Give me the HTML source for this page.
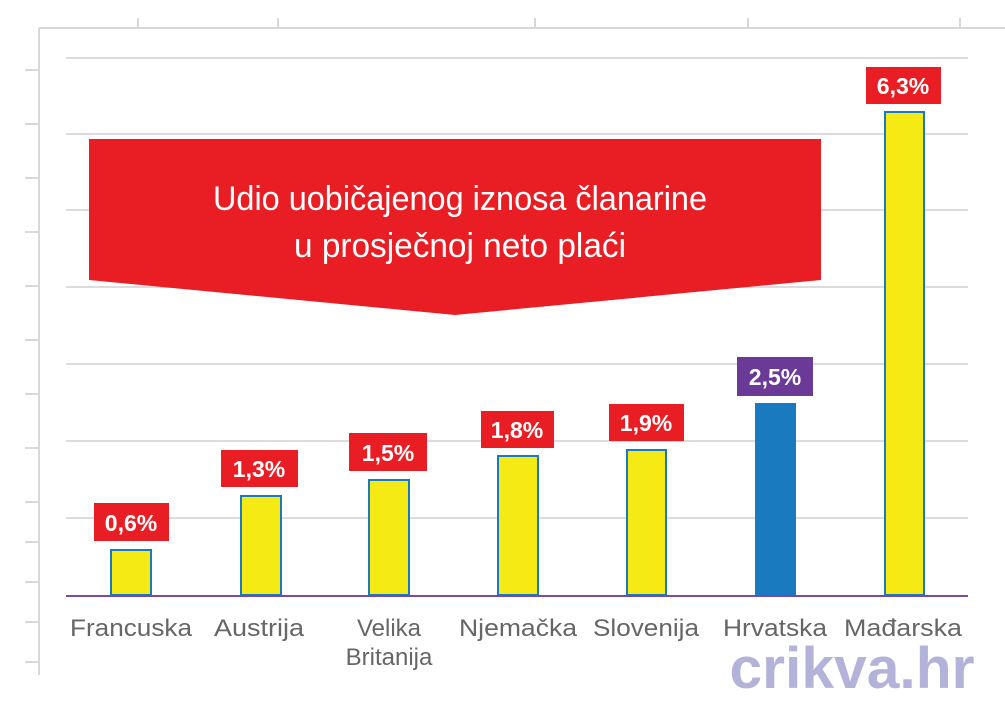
<!DOCTYPE html>
<html><head><meta charset="utf-8"><style>
body{margin:0;background:#fff}
svg{display:block}
</style></head><body>
<svg width="1005" height="720" xmlns="http://www.w3.org/2000/svg" font-family="Liberation Sans, sans-serif">
<rect width="1005" height="720" fill="#fff"/>
<g stroke="#d8d8d8" stroke-width="2">
<line x1="39" y1="28" x2="1005" y2="28"/>
<line x1="39" y1="28" x2="39" y2="675"/>
<line x1="138" y1="18" x2="138" y2="28"/><line x1="278" y1="18" x2="278" y2="28"/><line x1="535" y1="18" x2="535" y2="28"/><line x1="748" y1="18" x2="748" y2="28"/><line x1="960" y1="18" x2="960" y2="28"/>
<line x1="25" y1="70" x2="39" y2="70"/><line x1="25" y1="124" x2="39" y2="124"/><line x1="25" y1="178" x2="39" y2="178"/><line x1="25" y1="232" x2="39" y2="232"/><line x1="25" y1="286" x2="39" y2="286"/><line x1="25" y1="340" x2="39" y2="340"/><line x1="25" y1="394" x2="39" y2="394"/><line x1="25" y1="448" x2="39" y2="448"/><line x1="25" y1="502" x2="39" y2="502"/><line x1="25" y1="542" x2="39" y2="542"/><line x1="25" y1="582" x2="39" y2="582"/><line x1="25" y1="622" x2="39" y2="622"/><line x1="25" y1="662" x2="39" y2="662"/>
</g>
<g stroke="#dcdcdc" stroke-width="2">
<line x1="66" y1="58" x2="968" y2="58"/><line x1="66" y1="134" x2="968" y2="134"/><line x1="66" y1="210" x2="968" y2="210"/><line x1="66" y1="287" x2="968" y2="287"/><line x1="66" y1="364" x2="968" y2="364"/><line x1="66" y1="441" x2="968" y2="441"/><line x1="66" y1="518" x2="968" y2="518"/>
</g>
<path d="M89 139 H821 V280 L455 315 L89 280 Z" fill="#e91e25"/>
<g fill="#fff" font-size="34" text-anchor="middle">
<text x="460" y="210" textLength="494" lengthAdjust="spacingAndGlyphs">Udio uobičajenog iznosa članarine</text>
<text x="460" y="257" textLength="332" lengthAdjust="spacingAndGlyphs">u prosječnoj neto plaći</text>
</g>
<g stroke="#1a7abf" stroke-width="2" fill="#f5ea14">
<rect x="111" y="550" width="40" height="45"/>
<rect x="241" y="496" width="40" height="99"/>
<rect x="369" y="480" width="40" height="115"/>
<rect x="498" y="456" width="40" height="139"/>
<rect x="627" y="450" width="39" height="145"/>
<rect x="756" y="404" width="39" height="191" fill="#1a7abf"/>
<rect x="885" y="112" width="39" height="483"/>
</g>
<line x1="66" y1="596" x2="968" y2="596" stroke="#7a4aa0" stroke-width="2"/>
<g font-size="23" font-weight="bold" fill="#fff" text-anchor="middle">
<rect x="94" y="503" width="75" height="38" fill="#e91e25"/><text x="131" y="531">0,6%</text>
<rect x="221" y="450" width="77" height="37" fill="#e91e25"/><text x="259" y="477">1,3%</text>
<rect x="349" y="433" width="78" height="38" fill="#e91e25"/><text x="388" y="461">1,5%</text>
<rect x="481" y="411" width="73" height="37" fill="#e91e25"/><text x="517" y="438">1,8%</text>
<rect x="609" y="404" width="75" height="37" fill="#e91e25"/><text x="646" y="431">1,9%</text>
<rect x="737" y="357" width="76" height="39" fill="#6a3a96"/><text x="775" y="385">2,5%</text>
<rect x="866" y="67" width="75" height="37" fill="#e91e25"/><text x="903" y="94">6,3%</text>
</g>
<g font-size="24" fill="#666" text-anchor="middle">
<text x="131" y="636" textLength="122" lengthAdjust="spacingAndGlyphs">Francuska</text>
<text x="259" y="636" textLength="90" lengthAdjust="spacingAndGlyphs">Austrija</text>
<text x="389" y="636">Velika</text>
<text x="389" y="665">Britanija</text>
<text x="518" y="636" textLength="118" lengthAdjust="spacingAndGlyphs">Njemačka</text>
<text x="646" y="636" textLength="106" lengthAdjust="spacingAndGlyphs">Slovenija</text>
<text x="775" y="636" textLength="104" lengthAdjust="spacingAndGlyphs">Hrvatska</text>
<text x="903" y="636" textLength="118" lengthAdjust="spacingAndGlyphs">Mađarska</text>
</g>
<text x="852" y="688" font-size="58" font-weight="bold" fill="#b3b3da" text-anchor="middle" textLength="245" lengthAdjust="spacingAndGlyphs">crikva.hr</text>
</svg>
</body></html>
